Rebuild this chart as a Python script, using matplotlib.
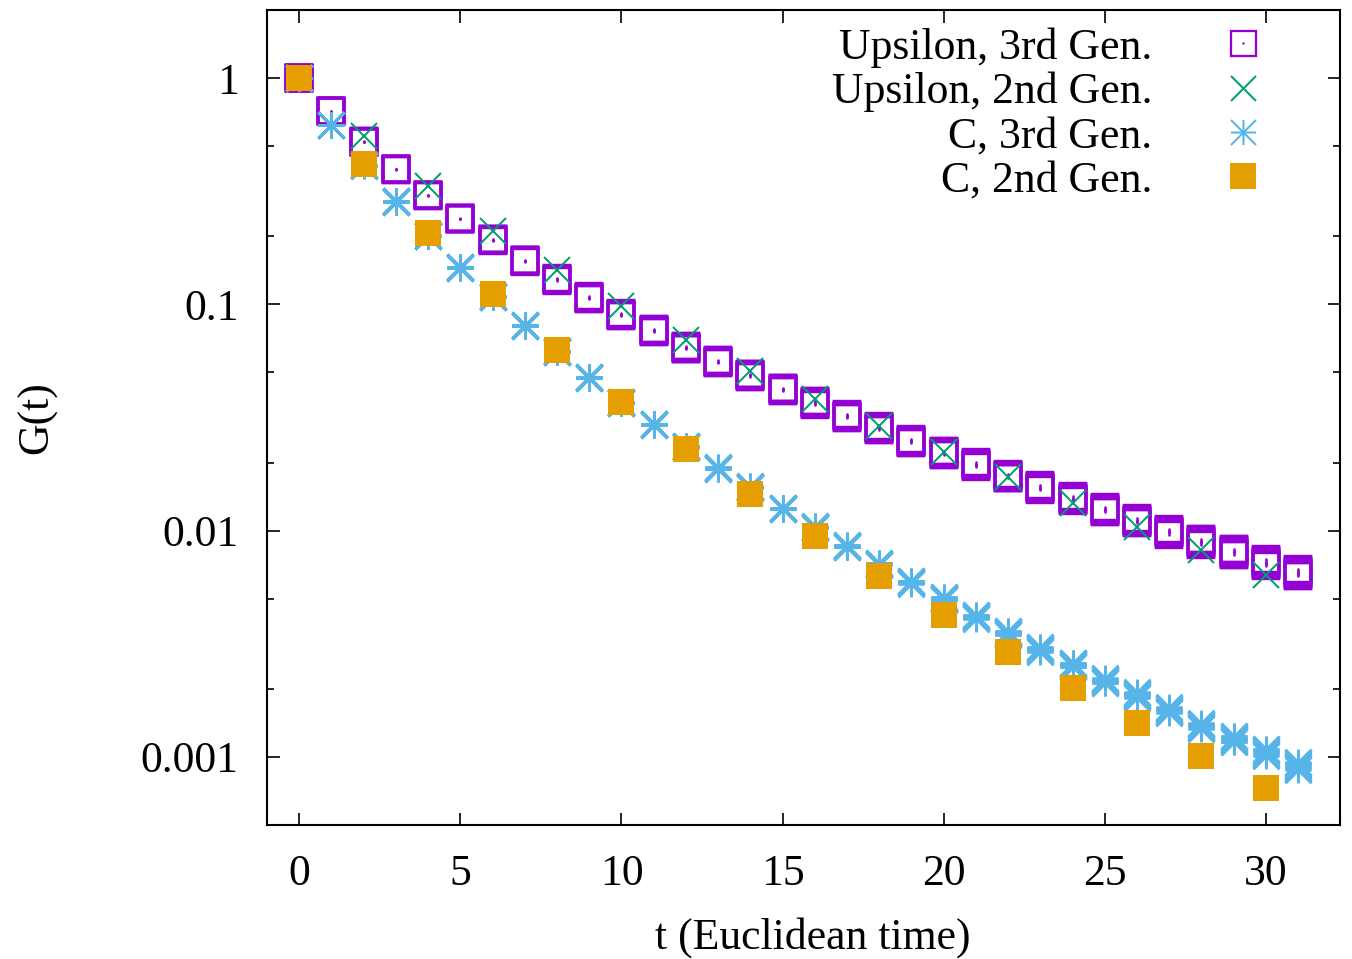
import numpy as np
import matplotlib
matplotlib.use("Agg")
import matplotlib.pyplot as plt
from matplotlib.path import Path

# ---- data: Euclidean-time correlators ----
t_all = list(range(32))
t_even = list(range(0, 32, 2))

ups3 = [1.0, 0.7154, 0.5237, 0.3957, 0.304, 0.2393, 0.193, 0.156, 0.1289, 0.1071,
        0.0901, 0.0766, 0.0644, 0.0559, 0.0485, 0.0421, 0.0367, 0.0321, 0.0284, 0.02485,
        0.02206, 0.0196, 0.01739, 0.0155, 0.01386, 0.01235, 0.01106, 0.00989, 0.00892, 0.00805,
        0.00723, 0.00652]
ups3_relerr = [0.0, 0.0015, 0.003, 0.0045, 0.006, 0.0075, 0.009, 0.010, 0.011, 0.0125,
               0.0135, 0.0145, 0.0155, 0.0165, 0.017, 0.0175, 0.018, 0.019, 0.0195, 0.020,
               0.0205, 0.0215, 0.022, 0.023, 0.0245, 0.0255, 0.027, 0.0285, 0.0305, 0.033,
               0.0355, 0.038]

ups2 = [1.0, 0.5548, 0.332, 0.2108, 0.1415, 0.0982, 0.0699, 0.0510, 0.03815, 0.0289,
        0.0222, 0.01725, 0.0132, 0.01035, 0.0082, 0.00639]

c3 = [1.0, 0.622, 0.4115, 0.285, 0.201, 0.1456, 0.108, 0.0805, 0.0618, 0.0475,
      0.0368, 0.0295, 0.0235, 0.0189, 0.01557, 0.01252, 0.01035, 0.00853, 0.00711, 0.00592,
      0.00501, 0.00416, 0.00353, 0.00299, 0.00255, 0.00217, 0.00188, 0.00161, 0.00137, 0.0012,
      0.00105, 0.000914]
c3_relerr = [0.0, 0.001, 0.002, 0.003, 0.004, 0.005, 0.0055, 0.006, 0.0065, 0.007,
             0.0075, 0.008, 0.0085, 0.009, 0.009, 0.0095, 0.010, 0.011, 0.0125, 0.014,
             0.016, 0.0195, 0.0215, 0.0235, 0.0245, 0.0255, 0.027, 0.0285, 0.0305, 0.033,
             0.0365, 0.0405]

c2 = [1.0, 0.4175, 0.2072, 0.1115, 0.0631, 0.0372, 0.0229, 0.0145, 0.00945, 0.00627,
      0.00425, 0.00291, 0.00202, 0.001414, 0.00101, 0.000731]

labels = ["Upsilon, 3rd Gen.", "Upsilon, 2nd Gen.", "C, 3rd Gen.", "C, 2nd Gen."]
ytick_vals = [1, 0.1, 0.01, 0.001]
ytick_labels = ["1", "0.1", "0.01", "0.001"]
xtick_vals = [0, 5, 10, 15, 20, 25, 30]

PURPLE = "#9400d3"
GREEN = "#009e73"
BLUE = "#56b4e9"
ORANGE = "#e69f00"

PX = 72.0 / 100.0  # points per pixel at dpi 100
FS = 31.5

plt.rcParams["font.family"] = ["Liberation Serif", "DejaVu Serif"]

asterisk = Path([(-1, 0), (1, 0), (0, -1), (0, 1), (-1, -1), (1, 1), (-1, 1), (1, -1)],
                [Path.MOVETO, Path.LINETO] * 4)

fig = plt.figure(figsize=(13.52, 9.59), dpi=100)
ax = fig.add_axes([267 / 1352, 1 - 825 / 959, (1340 - 267) / 1352, (825 - 10) / 959])
ax.set_yscale("log")
ax.set_xlim(-1, 32.3)
ax.set_ylim(5e-4, 2)


def smeared(x, y, rel, n=11, **kw):
    """Draw a marker repeatedly across its vertical uncertainty band."""
    y = np.asarray(y)
    rel = np.asarray(rel)
    for f in np.linspace(-1, 1, n):
        ax.plot(x, y * (1 + f * rel), ls="none", **kw)


# Upsilon, 3rd generation: open squares with central error stroke
smeared(t_all, ups3, ups3_relerr, marker="s", ms=25.5 * PX, mfc="none",
        mec=PURPLE, mew=2.4 * PX, zorder=2)
y3 = np.asarray(ups3)
e3 = np.asarray(ups3_relerr)
ax.vlines(t_all, y3 * (1 - e3), y3 * (1 + e3), colors=PURPLE, lw=2.6 * PX,
          capstyle="round", zorder=2)
ax.plot(t_all, ups3, ls="none", marker="o", ms=2.8 * PX, mfc=PURPLE, mew=0, zorder=2)

# Upsilon, 2nd generation: crosses
ax.plot(t_even, ups2, ls="none", marker="x", ms=26 * PX, mec=GREEN, mew=2.0 * PX, zorder=3)

# C, 3rd generation: asterisks
smeared(t_all, c3, c3_relerr, marker=asterisk, ms=26 * PX, mfc="none",
        mec=BLUE, mew=2.6 * PX, zorder=4)

# C, 2nd generation: filled squares
ax.plot(t_even, c2, ls="none", marker="s", ms=26 * PX, mfc=ORANGE, mec=ORANGE,
        mew=0, zorder=5)

# ---- axes styling ----
ax.set_xticks(xtick_vals)
ax.set_xticklabels([str(v) for v in xtick_vals])
ax.set_yticks(ytick_vals)
ax.set_yticklabels(ytick_labels)
minor = [m * 10.0 ** k for k in range(-4, 1) for m in (2, 5)]
ax.yaxis.set_minor_locator(matplotlib.ticker.FixedLocator(minor))
ax.yaxis.set_minor_formatter(matplotlib.ticker.NullFormatter())
ax.xaxis.set_minor_locator(matplotlib.ticker.NullLocator())

ax.tick_params(which="both", direction="in", top=True, right=True, width=1.2,
               labelsize=FS, colors="black")
ax.tick_params(axis="y", which="major", length=9, pad=20.5)
ax.tick_params(axis="y", which="minor", length=5)
ax.tick_params(axis="x", which="major", length=9, pad=21)
for s in ax.spines.values():
    s.set_linewidth(1.5)

fig.text(813 / 1352, 1 - 938 / 959, "t (Euclidean time)", ha="center", va="center",
         fontsize=FS)
fig.text(37 / 1352, 1 - 418 / 959, "G(t)", ha="center", va="center", rotation=90,
         fontsize=FS)

# ---- key: right-justified labels with samples on the right ----
text_x = (1152 - 267) / 1073
samp_x = (1243 - 267) / 1073
baselines = [58.5, 102.8, 147.1, 191.4]
samp_y = [43, 87.5, 131.7, 175.8]
for lab, b in zip(labels, baselines):
    ax.text(text_x, (825 - b) / 815, lab, transform=ax.transAxes, ha="right",
            va="baseline", fontsize=FS)

kw = dict(transform=ax.transAxes, clip_on=False, ls="none")
sy = [(825 - v) / 815 for v in samp_y]
ax.plot([samp_x], [sy[0]], marker="s", ms=25 * PX, mfc="none", mec=PURPLE,
        mew=2.3 * PX, **kw)
ax.plot([samp_x], [sy[0]], marker="o", ms=2.4 * PX, mfc=PURPLE, mew=0, **kw)
ax.plot([samp_x], [sy[1]], marker="x", ms=25 * PX, mec=GREEN, mew=2.0 * PX, **kw)
ax.plot([samp_x], [sy[2]], marker=asterisk, ms=25 * PX, mfc="none", mec=BLUE,
        mew=2.0 * PX, **kw)
ax.plot([samp_x], [sy[3]], marker="s", ms=26 * PX, mfc=ORANGE, mec=ORANGE, mew=0, **kw)

fig.savefig("out.png", dpi=100)
